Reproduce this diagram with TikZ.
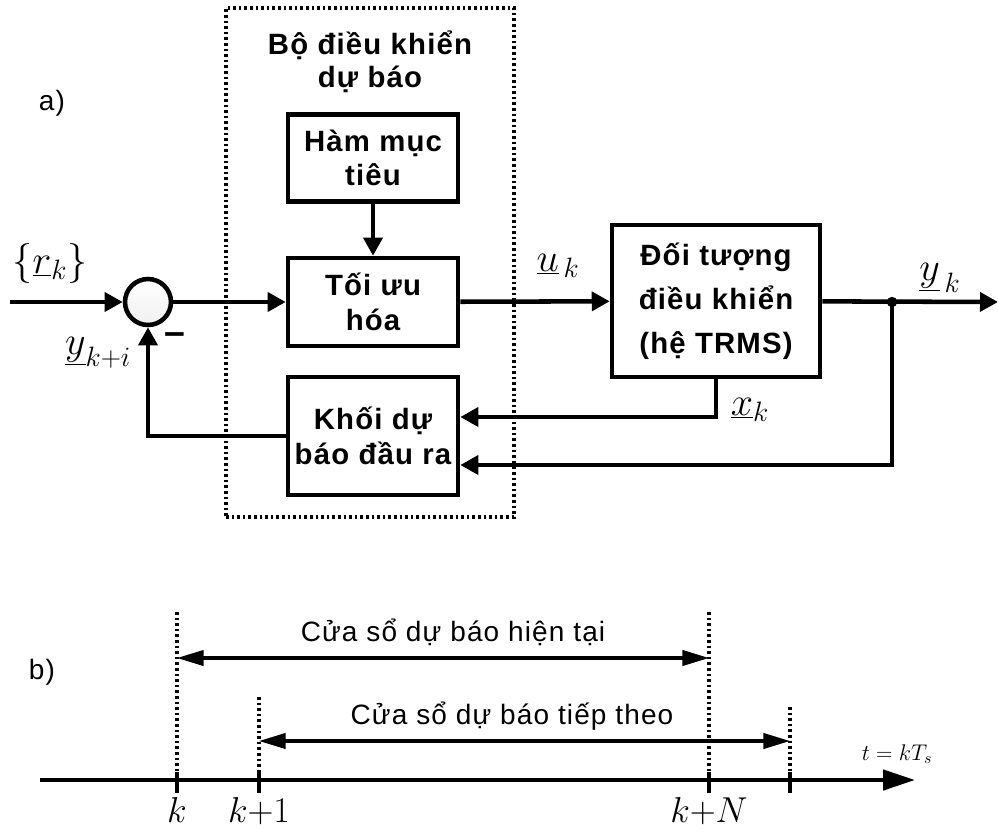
\documentclass[tikz,border=0pt]{standalone}
\usepackage{fix-cm}
\usepackage{fontspec}
\setmainfont{Liberation Sans}[LetterSpace=4]
\usetikzlibrary{positioning, arrows.meta}

\begin{document}
\begin{tikzpicture}[
  x=0.75pt, y=-0.75pt,
  font=\fontsize{21}{26}\selectfont,
  every node/.style={align=center, inner sep=0pt},
  blk/.style={draw, rectangle, line width=3.4pt, minimum width=127.5pt, font=\fontsize{22}{26}\selectfont\bfseries},
  khung/.style={draw, rectangle, line width=2.4pt, dash pattern=on 2pt off 2.2pt},
  tong/.style={circle, draw, line width=3.4pt, minimum size=34.5pt, top color=white, bottom color=gray!12},
  arr/.style={-{Triangle[length=13.5pt, width=14pt]}, line width=3.4pt},
  warr/.style={{Triangle[length=20pt, width=11.5pt]}-{Triangle[length=20pt, width=11.5pt]}, line width=2.3pt},
  vach/.style={line width=2.4pt, dash pattern=on 2pt off 2.2pt},
  nhan/.style={font=\fontsize{30}{34}\selectfont},
  moc/.style={font=\fontsize{27}{30}\selectfont, anchor=base}
]
\useasboundingbox (0,0) rectangle (998,831);

% a) so do khoi
\node[khung, minimum width=216pt, minimum height=381.75pt] (bodk) at (370,262.5) {};
\node[font=\fontsize{22}{25}\selectfont\bfseries] (tieude) at (370,62) {Bộ điều khiển\\dự báo};
\node[blk, minimum height=65pt] (ham) at (373,158) {Hàm mục\\tiêu};
\node[blk, minimum height=66pt] (toiuu) at (373,302) {Tối ưu\\hóa};
\node[blk, minimum height=88.5pt] (khoi) at (373,436) {Khối dự\\báo đầu ra};
\node[blk, minimum width=156pt, minimum height=114pt, font=\fontsize{22}{33}\selectfont\bfseries] (doituong) at (716,301) {Đối tượng\\điều khiển\\(hệ TRMS)};
\node[tong] (cong) at (148,302) {};
\coordinate (vao) at (10,302);
\coordinate (nhanh) at (892,302);
\coordinate (ra) at (998,302);

\node (nhana) at (52,103) {a)};
\node[nhan] (rk) at (50,263) {$\{\underline{r}_k\}$};
\node[nhan] (uk) at (558,266) {$\underline{u}_{\,k}$};
\node[nhan] (yk) at (940,278) {$\underline{y}_{\,k}$};
\node[nhan] (xk) at (750,410) {$\underline{x}_k$};
\node[nhan] (ykit) at (98,353) {$\underline{y}_{k+i}$};
\node[font=\fontsize{28}{30}\selectfont\bfseries] (tru) at (175,339) {–};

\draw[arr] (vao) -- (cong);
\draw[arr] (cong) -- (toiuu);
\draw[arr] (ham) -- (toiuu);
\draw[arr] (toiuu) -- (doituong);
\draw[arr] (doituong) -- (ra);
\fill (nhanh) circle (3.9pt);
\draw[arr] (doituong.south) |- ([yshift=14.25pt]khoi.east);
\draw[arr] (nhanh) |- ([yshift=-21.75pt]khoi.east);
\draw[arr] (khoi.west) -| (cong.south);

% b) cua so du bao
\node (nhanb) at (42,672) {b)};
\coordinate (goc) at (40,780);
\coordinate (cuoi) at (915,780);
\draw[-{Triangle[length=24pt, width=15pt]}, line width=3.4pt] (goc) -- (cuoi);
\foreach \i/\x/\tren in {1/177/612, 2/259/697, 3/709/612, 4/790/707} {
  \coordinate (d\i) at (\x,\tren);
  \coordinate (m\i) at (\x,772);
  \coordinate (c\i) at (\x,793);
  \draw[vach] (d\i) -- (m\i);
  \draw[line width=2.4pt] (m\i) -- (c\i);
}
\node[moc] (mk) at (177,822) {$k$};
\node[moc] (mk1) at (259,822) {$k{+}1$};
\node[moc] (mkn) at (709,822) {$k{+}N$};
\node[font=\fontsize{17}{20}\selectfont] (tks) at (897,754) {$t=kT_s$};

\coordinate (w1a) at (177,658);
\coordinate (w1b) at (709,658);
\coordinate (w2a) at (259,741);
\coordinate (w2b) at (790,741);
\draw[warr] (w1a) -- (w1b);
\draw[warr] (w2a) -- (w2b);
\node (hientai) at (453,632) {Cửa sổ dự báo hiện tại};
\node (tiep) at (512,716) {Cửa sổ dự báo tiếp theo};
\end{tikzpicture}
\end{document}
